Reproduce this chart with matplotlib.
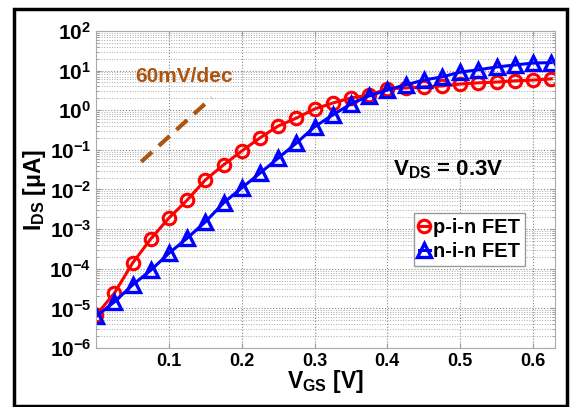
import numpy as np
import matplotlib
matplotlib.use("Agg")
import matplotlib.pyplot as plt
from matplotlib.patches import Rectangle

plt.rcParams["font.family"] = ["Liberation Sans", "DejaVu Sans"]
plt.rcParams["mathtext.fontset"] = "custom"
plt.rcParams["mathtext.rm"] = "Liberation Sans:bold"
plt.rcParams["mathtext.bf"] = "Liberation Sans:bold"
plt.rcParams["mathtext.it"] = "Liberation Sans:bold"

# V_GS sweep [V]
vgs = [0.0, 0.025, 0.05, 0.075, 0.1, 0.125, 0.15, 0.175, 0.2, 0.225, 0.25,
       0.275, 0.3, 0.325, 0.35, 0.375, 0.4, 0.425, 0.45, 0.475, 0.5, 0.525,
       0.55, 0.575, 0.6, 0.625]

# log10(I_DS [uA])
pin_log = [-5.17, -4.62, -3.86, -3.25, -2.72, -2.27, -1.76, -1.38, -1.03,
           -0.70, -0.40, -0.20, 0.03, 0.18, 0.31, 0.38, 0.54, 0.56, 0.59,
           0.61, 0.66, 0.69, 0.71, 0.74, 0.76, 0.79]
nin_log = [-5.20, -4.84, -4.41, -4.04, -3.61, -3.23, -2.82, -2.34, -1.96,
           -1.59, -1.21, -0.83, -0.42, -0.12, 0.16, 0.36, 0.51, 0.64, 0.76,
           0.84, 0.96, 1.02, 1.09, 1.14, 1.19, 1.20]

# 60 mV/dec guide line end points
ref_x = [0.062, 0.159]
ref_y = [0.05, 0.05 * 10 ** ((0.159 - 0.062) / 0.06)]

pin = [10 ** v for v in pin_log]
nin = [10 ** v for v in nin_log]

fig = plt.figure(figsize=(5.72, 4.07), dpi=100)
ax = fig.add_axes([0.168, 0.145, 0.802, 0.779])

ax.plot(vgs, pin, color="red", lw=2.2, marker="o", ms=9, mfc="none",
        mew=2.2, label="p-i-n FET")
ax.plot(vgs, nin, color="blue", lw=2.2, marker="^", ms=10.5, mfc="none",
        mew=2.4, label="n-i-n FET")
ax.plot(ref_x, ref_y, color="#AD5410", lw=3, dashes=(3.5, 2.2))

ax.set_yscale("log")
ax.set_xlim(0, 0.63)
ax.set_ylim(1e-6, 1e2)
ax.set_xticks([0.1, 0.2, 0.3, 0.4, 0.5, 0.6])
ax.set_xticklabels(["0.1", "0.2", "0.3", "0.4", "0.5", "0.6"],
                   fontsize=13, fontweight="bold")
yt = [10.0 ** k for k in range(-6, 3)]
ax.set_yticks(yt)
ax.set_yticklabels([r"$\mathbf{10^{%d}}$" % k for k in range(-6, 3)], fontsize=15)

ax.grid(True, which="major", color="#888888", ls=":", lw=0.8)
ax.grid(True, which="minor", axis="y", color="#aaaaaa", ls=":", lw=0.7)
ax.tick_params(which="both", direction="in", top=True, right=True,
               color="#999999")
for s in ax.spines.values():
    s.set_color("#aaaaaa")

ax.set_xlabel(r"$\mathbf{V_{GS}}$ [V]", fontsize=16.5, fontweight="bold",
              labelpad=-1)
ax.set_ylabel(r"$\mathbf{I_{DS}}$ [μA]", fontsize=16.5, fontweight="bold",
              labelpad=1)

ax.text(0.054, 5.0, "60mV/dec", color="#AD5410", fontsize=15,
        fontweight="bold")
ax.text(0.408, 0.022, r"$\mathbf{V_{DS}}$ = 0.3V", fontsize=16,
        fontweight="bold")

leg = ax.legend(loc="upper right", bbox_to_anchor=(0.935, 0.426),
                borderaxespad=0, handlelength=0.55, handletextpad=0.15,
                borderpad=0.25, labelspacing=0.25, fancybox=False,
                framealpha=1, edgecolor="#999999",
                prop={"weight": "bold", "size": 14.5})
leg.get_frame().set_linewidth(1.0)

fig.patches.append(Rectangle((0.0245, 0.003), 0.967, 0.975,
                             transform=fig.transFigure, fill=False,
                             edgecolor="black", lw=2.5))

fig.savefig("out.png", dpi=100)
